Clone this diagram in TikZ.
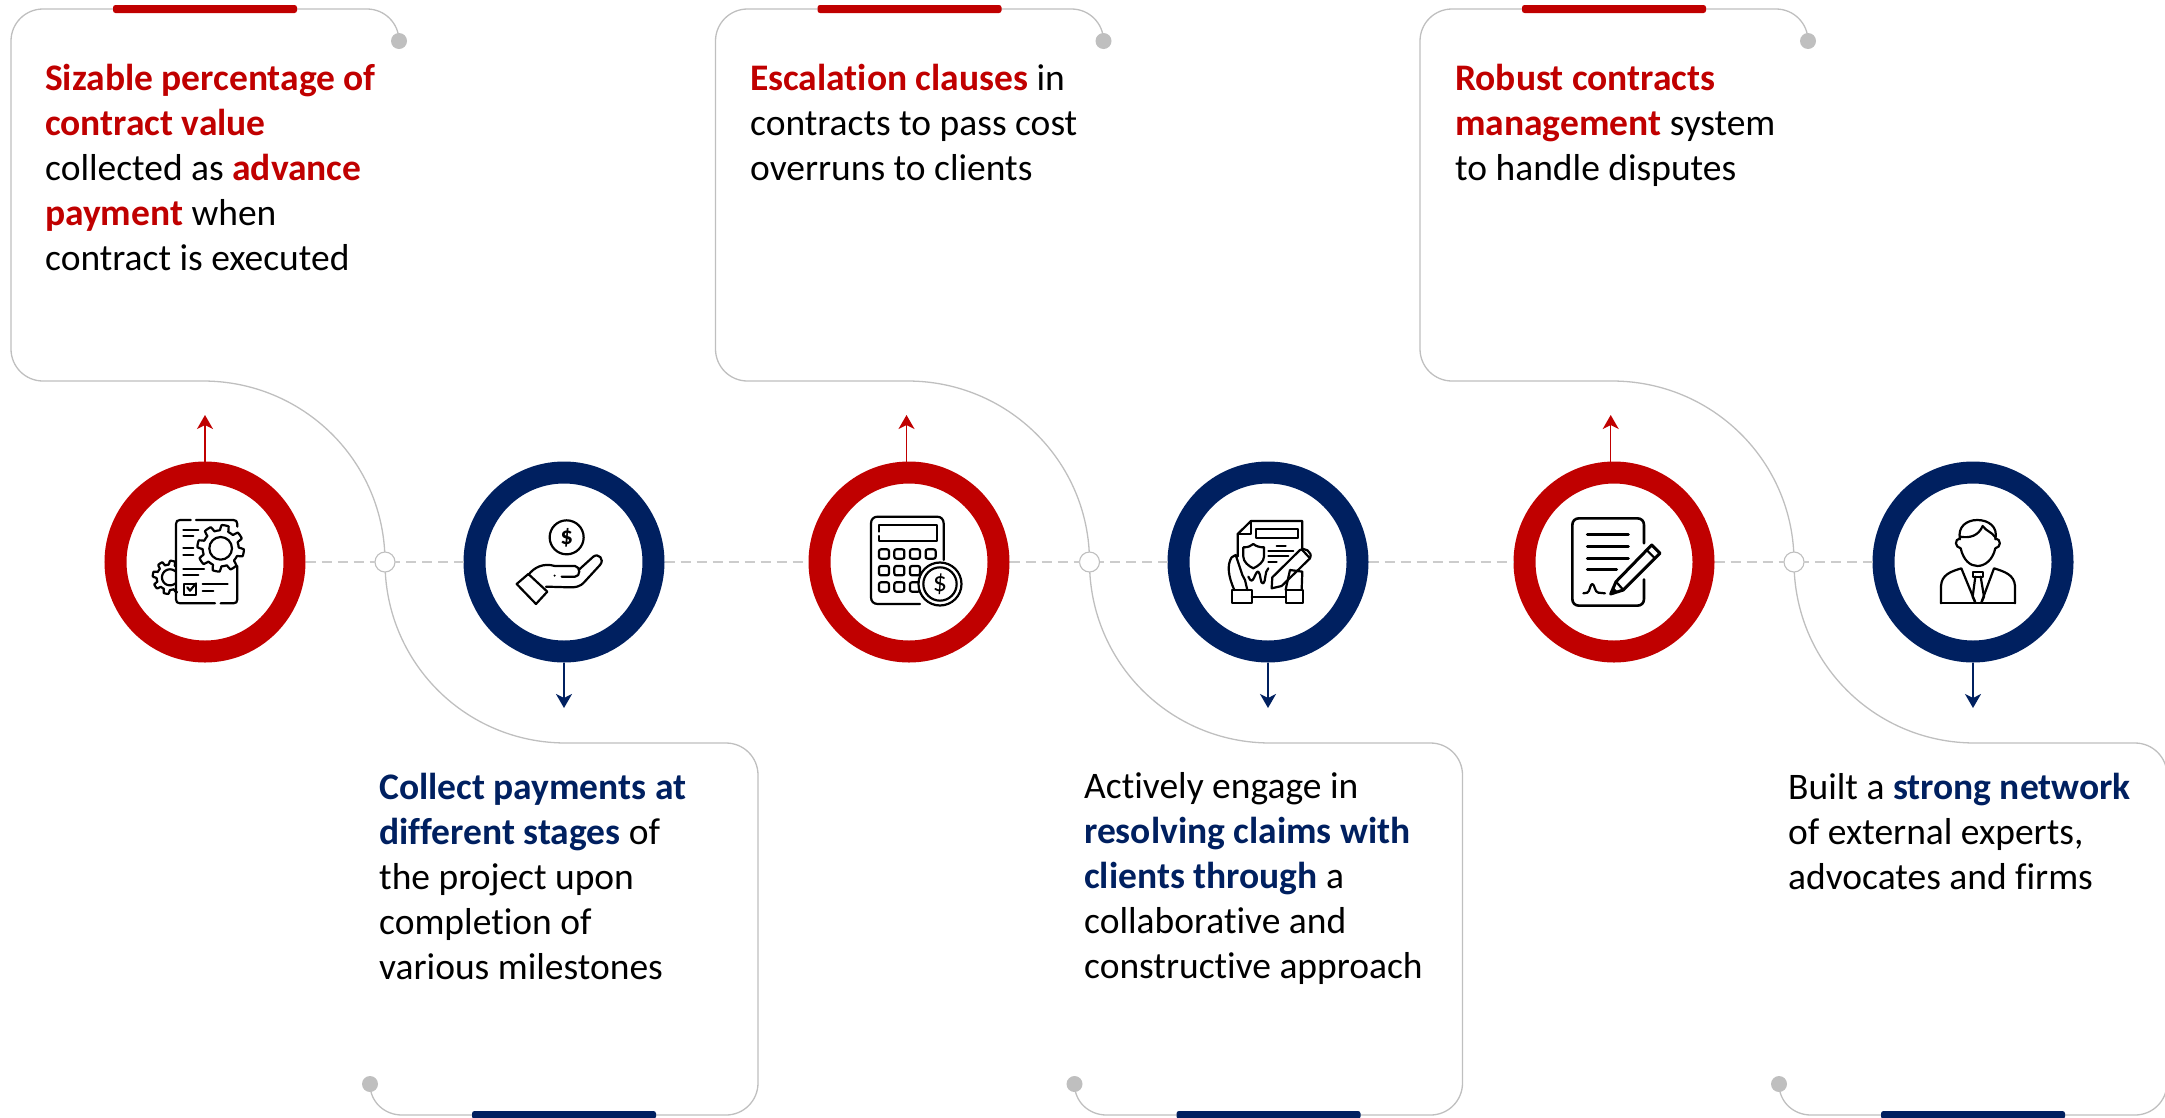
\documentclass[tikz,border=0pt]{standalone}
\usepackage{fontspec}
\setmainfont[Ligatures=CommonOff]{Carlito}
\usetikzlibrary{arrows.meta}
\definecolor{ringred}{HTML}{C00000}
\definecolor{ringnavy}{HTML}{002060}
\definecolor{cardline}{HTML}{BFBFBF}
\definecolor{dashline}{HTML}{CCCCCC}
\newcommand{\Red}[1]{\textbf{\textcolor{ringred}{#1}}}
\newcommand{\Navy}[1]{\textbf{\textcolor{ringnavy}{#1}}}
\tikzset{
  ringbase/.style={circle,draw,fill=white,line width=22pt,minimum size=179pt,inner sep=0pt,outer sep=11pt},
  redring/.style={ringbase,draw=ringred},
  navyring/.style={ringbase,draw=ringnavy},
  cardpath/.style={draw=cardline,line width=1.3pt},
  enddot/.style={circle,fill=cardline,minimum size=16pt,inner sep=0pt,outer sep=0pt},
  junction/.style={circle,draw=cardline,line width=1.1pt,fill=white,minimum size=20pt,inner sep=0pt,outer sep=0pt},
  dashlink/.style={draw=dashline,line width=1.6pt,dash pattern=on 10pt off 6pt},
  cardtext/.style={anchor=north west,align=left,inner sep=0pt,font=\fontsize{37.5}{45}\selectfont},
  tiparrow/.style={line width=1.5pt,-{Stealth[length=14pt,width=16pt,inset=4pt]}},
  iconline/.style={draw=black,line width=2.2pt,line cap=round,line join=round},
  iconthick/.style={draw=black,line width=3pt,line cap=round,line join=round},
  bar/.style={rounded corners=2.5pt},
}
\begin{document}
\begin{tikzpicture}[x=1pt,y=-1pt]
\useasboundingbox (0,0) rectangle (2165,1117);

% rings
\foreach \k/\a/\b in {0/205/564,1/909/1268,2/1614/1973}{
  \node[redring] (top\k) at (\a,562) {};
  \node[navyring] (bot\k) at (\b,562) {};
}

% cards, junctions and arrows
\foreach \k/\up in {0/205,1/906.5,2/1610.7}{
\begin{scope}[xshift=\k*704.5pt]
  \node[enddot] (dota\k) at (399,41) {};
  \node[enddot] (dotb\k) at (370,1084) {};
  \coordinate (jc\k) at (385,562);
  \draw[cardpath] (dota\k.center) .. controls (399,23.3) and (384.7,9) .. (367,9)
     -- (43,9) .. controls (25.3,9) and (11,23.3) .. (11,41)
     -- (11,349) .. controls (11,366.7) and (25.3,381) .. (43,381)
     -- (203,381) .. controls (303.5,381) and (385,461.5) .. (jc\k)
     .. controls (385,662.5) and (465.5,743) .. (566,743)
     -- (726,743) .. controls (743.7,743) and (758,757.3) .. (758,775)
     -- (758,1083) .. controls (758,1100.7) and (743.7,1115) .. (726,1115)
     -- (402,1115) .. controls (384.3,1115) and (370,1101.7) .. (dotb\k.center);
  \node[junction] (j\k) at (jc\k) {};
  \fill[ringred,bar] (113,5) rectangle (297,13);
  \fill[ringnavy,bar] (472,1111) rectangle (656,1119);
  \coordinate (downend\k) at (564,708);
\end{scope}
\coordinate (upend\k) at (\up,415);
\draw[tiparrow,ringred] (top\k.north -| upend\k) -- (upend\k);
\draw[tiparrow,ringnavy] (bot\k.south) -- (bot\k.center |- downend\k);
\draw[dashlink] (top\k.east) -- (j\k.west);
\draw[dashlink] (bot\k.west) -- (j\k.east);
}
\draw[dashlink] (bot0.east) -- (top1.west);
\draw[dashlink] (bot1.east) -- (top2.west);

% texts
\node[cardtext] (t1) at (45,63.5) {\Red{Sizable percentage of}\\\Red{contract value}\\collected as \Red{advance}\\\Red{payment} when\\contract is executed};
\node[cardtext] (t2) at (379,772.5) {\Navy{Collect payments at}\\\Navy{different stages} of\\the project upon\\completion of\\various milestones};
\node[cardtext] (t3) at (750,63.5) {\Red{Escalation clauses} in\\contracts to pass cost\\overruns to clients};
\node[cardtext] (t4) at (1084,772.5) {Actively engage in\\\Navy{resolving claims with}\\\Navy{clients through} a\\collaborative and\\constructive approach};
\node[cardtext] (t5) at (1455,63.5) {\Red{Robust contracts}\\\Red{management} system\\to handle disputes};
\node[cardtext] (t6) at (1788,772.5) {Built a \Navy{strong network}\\of external experts,\\advocates and firms};

% icon 1: document with gears
\begin{scope}[shift={(100,460)},x=0.3333pt,y=-0.3333pt]
  \draw[iconline] (272,180) -- (240,180) .. controls (232,180) and (228,184) .. (228,192) -- (228,418) .. controls (228,426) and (232,430) .. (240,430) -- (345,430);
  \draw[iconline] (288,180) -- (400,180) .. controls (408,180) and (412,184) .. (412,192) -- (412,200);
  \draw[iconline] (412,318) -- (412,418) .. controls (412,426) and (408,430) .. (400,430) -- (362,430);
  \draw[iconline,fill=white] plot[domain=0:360,samples=161] ({362+(62+8*max(-1,min(1,3*sin(8*\x))))*cos(\x)},{265+(62+8*max(-1,min(1,3*sin(8*\x))))*sin(\x)}) -- cycle;
  \draw[iconline] (362,265) circle[radius=34];
  \draw[iconline] plot[domain=62:298,samples=90] ({208+(44+6*max(-1,min(1,3*sin(8*\x))))*cos(\x)},{352+(44+6*max(-1,min(1,3*sin(8*\x))))*sin(\x)});
  \draw[iconline] plot[domain=50:310,samples=40] ({210+24*cos(\x)},{352+24*sin(\x)});
  \draw[iconline] (250,210) -- (295,210) (250,227) -- (280,227) (250,265) -- (280,265) (250,285) -- (280,285)
     (250,328) -- (312,328) (250,345) -- (295,345) (308,373) -- (383,373) (308,392) -- (340,392);
  \draw[iconline] (252,372) rectangle (288,405);
  \draw[iconline] (262,382) -- (270,392) -- (288,370);
\end{scope}

% icon 2: hand and coin
\begin{scope}[shift={(460,460)},x=0.3333pt,y=-0.3333pt]
  \node[circle,draw=black,line width=2.2pt,minimum size=34pt,inner sep=0pt] (coinb) at (320,232) {\fontsize{25}{25}\selectfont\textbf{\$}};
  \draw[iconline] (170,372) -- (205,342) -- (262,395) -- (228,432) -- cycle;
  \draw[iconline] (205,345) .. controls (222,322) and (250,308) .. (285,318) -- (345,318) .. controls (362,320) and (362,350) .. (345,350) -- (305,350);
  \draw[iconline] (358,328) -- (400,290) .. controls (415,278) and (435,298) .. (420,315) -- (375,364) .. controls (360,382) and (345,382) .. (330,382) -- (258,380);
  \fill (284,347) circle[radius=3.5];
\end{scope}

% icon 3: calculator and coin
\begin{scope}[shift={(805,460)},x=0.3333pt,y=-0.3333pt]
  \draw[iconline] (416,300) -- (416,190) .. controls (416,178) and (408,170) .. (396,170) -- (218,170) .. controls (206,170) and (198,178) .. (198,190) -- (198,412) .. controls (198,424) and (206,432) .. (218,432) -- (345,432);
  \draw[iconline] (222,215) -- (222,195) -- (395,195) -- (395,242) -- (222,242) -- (222,228);
  \foreach \bx in {222,268,315,362}{
    \draw[iconline,rounded corners=2pt] (\bx,268) rectangle ++(30,28);
  }
  \foreach \bx in {222,268,315}{
    \draw[iconline,rounded corners=2pt] (\bx,318) rectangle ++(30,28);
    \draw[iconline,rounded corners=2pt] (\bx,367) rectangle ++(30,28);
  }
  \node[circle,draw=black,fill=white,line width=2.2pt,minimum size=43pt,inner sep=0pt] (coinc) at (405,372) {\fontsize{28}{28}\selectfont\$};
  \draw[iconline] (405,372) circle[radius=50];
\end{scope}

% icon 4: document, shield, hands and pen
\begin{scope}[shift={(1165,460)},x=0.3333pt,y=-0.3333pt]
  \draw[iconline] (218,290) -- (218,222) -- (258,183) -- (412,183) -- (412,270);
  \draw[iconline] (218,222) -- (258,222) -- (258,183);
  \draw[iconline] (272,207) rectangle (400,235);
  \draw[iconline] (235,262) .. controls (250,262) and (258,258) .. (265,252) .. controls (272,258) and (282,262) .. (297,262) -- (297,290) .. controls (297,305) and (280,318) .. (265,325) .. controls (250,318) and (235,305) .. (235,290) -- cycle;
  \draw[iconline] (335,257) -- (362,257) (310,272) -- (385,272) (310,288) -- (370,288) (310,305) -- (335,305);
  \draw[iconline] (200,390) rectangle (260,428);
  \draw[iconline] (362,390) rectangle (415,428);
  \draw[iconline] (260,410) -- (362,410);
  \draw[iconline] (208,390) .. controls (190,350) and (185,315) .. (200,292) -- (212,285) -- (232,345) -- (240,360) -- (247,390);
  \draw[iconline] (250,350) .. controls (265,385) and (270,330) .. (280,335) .. controls (288,340) and (285,375) .. (295,370) .. controls (303,365) and (298,335) .. (310,325);
  \draw[iconline] (320,385) -- (322,352) -- (405,270) .. controls (415,260) and (445,275) .. (435,295) -- (350,378) -- cycle;
  \draw[iconline] (410,268) -- (435,295);
  \draw[iconline] (410,390) -- (412,335) -- (375,330) -- (365,375) -- (362,390);
\end{scope}

% icon 5: signed document and pencil
\begin{scope}[shift={(1510,460)},x=0.3333pt,y=-0.3333pt]
  \draw[iconline,line width=2.6pt] (402,250) -- (402,195) .. controls (402,183) and (394,175) .. (382,175) -- (207,175) .. controls (195,175) and (187,183) .. (187,195) -- (187,417) .. controls (187,429) and (195,437) .. (207,437) -- (382,437) .. controls (394,437) and (402,429) .. (402,417) -- (402,358);
  \draw[iconthick] (232,223) -- (355,223) (232,258) -- (355,258) (232,294) -- (355,294) (232,329) -- (320,329);
  \draw[iconline] (220,400) -- (232,398) .. controls (240,395) and (240,372) .. (247,372) .. controls (254,372) and (254,398) .. (265,398) -- (285,400);
  \draw[iconthick] (302,402) -- (318,365) -- (425,255) -- (450,280) -- (340,390) -- cycle;
  \draw[iconline] (410,270) -- (435,295) (318,365) -- (340,390);
  \fill (302,402) -- (310,382) -- (322,394) -- cycle;
\end{scope}

% icon 6: person
\begin{scope}[shift={(1870,460)},x=0.3333pt,y=-0.3333pt]
  \draw[iconline] (270,238) .. controls (262,200) and (290,180) .. (322,180) .. controls (355,180) and (385,200) .. (376,238);
  \draw[iconline] (270,230) .. controls (300,235) and (325,228) .. (338,198) .. controls (350,215) and (365,215) .. (376,232);
  \draw[iconline] (270,235) .. controls (252,238) and (255,262) .. (272,265) .. controls (280,300) and (300,318) .. (322,318) .. controls (345,318) and (368,300) .. (376,265) .. controls (393,262) and (395,238) .. (376,235);
  \draw[iconline] (213,430) -- (213,378) .. controls (215,345) and (240,335) .. (274,325) -- (315,425);
  \draw[iconline] (435,430) -- (435,378) .. controls (433,345) and (405,335) .. (372,325) -- (335,425);
  \draw[iconline] (213,430) -- (435,430);
  \draw[iconline] (308,335) rectangle (340,350);
  \draw[iconline] (316,350) -- (308,410) -- (316,428) (332,350) -- (342,410) -- (334,428);
\end{scope}
\end{tikzpicture}
\end{document}
